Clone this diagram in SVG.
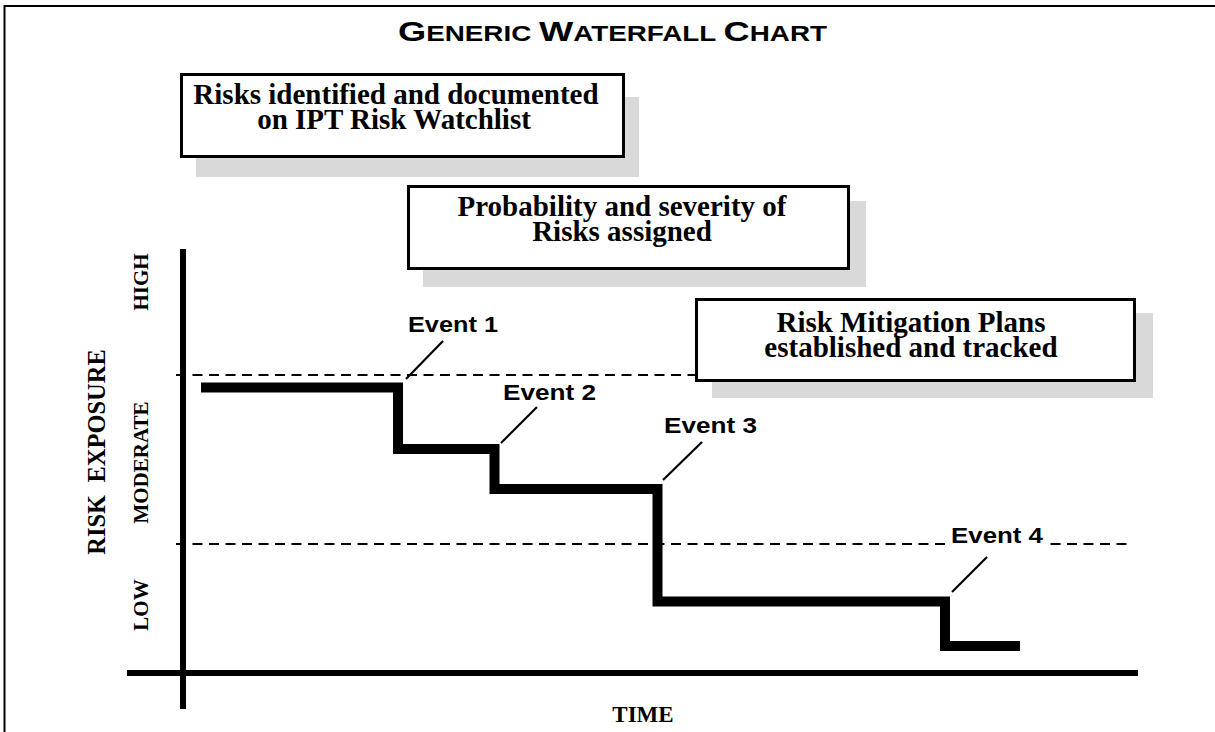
<svg xmlns="http://www.w3.org/2000/svg" width="1215" height="732" viewBox="0 0 1215 732">
<style>
.frame{stroke:#000;stroke-width:2;fill:none}
.axis{stroke:#000;stroke-width:6;fill:none}
.dash{stroke:#000;stroke-width:2.2;stroke-dasharray:10 6.5;fill:none}
.step{stroke:#000;stroke-width:10;fill:none;stroke-linejoin:miter;stroke-linecap:butt}
.lead{stroke:#000;stroke-width:2.2;fill:none}
.box{fill:#fff;stroke:#000;stroke-width:3}
.shadow{fill:#d9d9d9;stroke:none}
.btxt{font-family:"Liberation Serif","Times New Roman",serif;font-weight:bold;font-size:29px;text-anchor:middle;fill:#000}
.ev{font-family:"Liberation Sans",Arial,sans-serif;font-weight:bold;font-size:22.5px;fill:#000}
.ylab{font-family:"Liberation Serif","Times New Roman",serif;font-weight:bold;font-size:21px;text-anchor:middle;fill:#000}
.title{font-family:"Liberation Sans",Arial,sans-serif;font-weight:bold;fill:#000}
</style>
<rect x="0" y="0" width="1215" height="732" fill="#fff"/>
<g id="frame">
<line class="frame" x1="4.5" y1="6" x2="1215" y2="6"/>
<line class="frame" x1="4.5" y1="5" x2="4.5" y2="732"/>
</g>
<g id="title">
<text class="title" x="398" y="41" textLength="429" lengthAdjust="spacingAndGlyphs"><tspan font-size="28">G</tspan><tspan font-size="21.5">ENERIC </tspan><tspan font-size="28">W</tspan><tspan font-size="21.5">ATERFALL </tspan><tspan font-size="28">C</tspan><tspan font-size="21.5">HART</tspan></text>
</g>
<g id="axes">
<line class="axis" x1="183" y1="249" x2="183" y2="709"/>
<line class="axis" x1="127" y1="673" x2="1138" y2="673"/>
<text class="ylab" style="font-size:24.5px" transform="translate(105,452) rotate(-90)">RISK&#160;&#160;EXPOSURE</text>
<text class="ylab" transform="translate(148,282) rotate(-90)">HIGH</text>
<text class="ylab" transform="translate(148,462.5) rotate(-90)">MODERATE</text>
<text class="ylab" transform="translate(148,605) rotate(-90)">LOW</text>
<text class="ylab" style="font-size:23px" x="643" y="722">TIME</text>
</g>
<g id="connectors">
<line class="dash" x1="176" y1="375" x2="1130" y2="375"/>
<line class="dash" x1="176" y1="544" x2="1130" y2="544"/>
<path class="step" d="M201,387.5 H398 V449 H494.5 V489 H657.5 V601.5 H945 V646 H1020"/>
<line class="lead" x1="406" y1="379" x2="443" y2="341"/>
<line class="lead" x1="501" y1="443" x2="537" y2="407"/>
<line class="lead" x1="663" y1="480" x2="702" y2="442"/>
<line class="lead" x1="952" y1="592" x2="987" y2="557"/>
</g>
<g id="event1"><text class="ev" x="408" y="332" textLength="90" lengthAdjust="spacingAndGlyphs">Event 1</text></g>
<g id="event2"><text class="ev" x="503" y="400" textLength="93" lengthAdjust="spacingAndGlyphs">Event 2</text></g>
<g id="event3"><text class="ev" x="664" y="433" textLength="93" lengthAdjust="spacingAndGlyphs">Event 3</text></g>
<g id="event4"><rect x="948" y="524" width="98" height="22" fill="#fff"/><text class="ev" x="951" y="543" textLength="92" lengthAdjust="spacingAndGlyphs">Event 4</text></g>
<g id="box1">
<rect class="shadow" x="196" y="97" width="443" height="80"/>
<rect class="box" x="181.5" y="74.5" width="442" height="82"/>
<text class="btxt" x="396" y="104">Risks identified and documented</text>
<text class="btxt" x="394" y="129">on IPT Risk Watchlist</text>
</g>
<g id="box2">
<rect class="shadow" x="423" y="201" width="443" height="86"/>
<rect class="box" x="408.5" y="186.5" width="440" height="82"/>
<text class="btxt" x="622" y="216">Probability and severity of</text>
<text class="btxt" x="622" y="241">Risks assigned</text>
</g>
<g id="box3">
<rect class="shadow" x="712" y="313" width="441" height="85"/>
<rect class="box" x="696.5" y="299.5" width="438" height="81"/>
<text class="btxt" x="911" y="332">Risk Mitigation Plans</text>
<text class="btxt" x="911" y="357">established and tracked</text>
</g>
</svg>
